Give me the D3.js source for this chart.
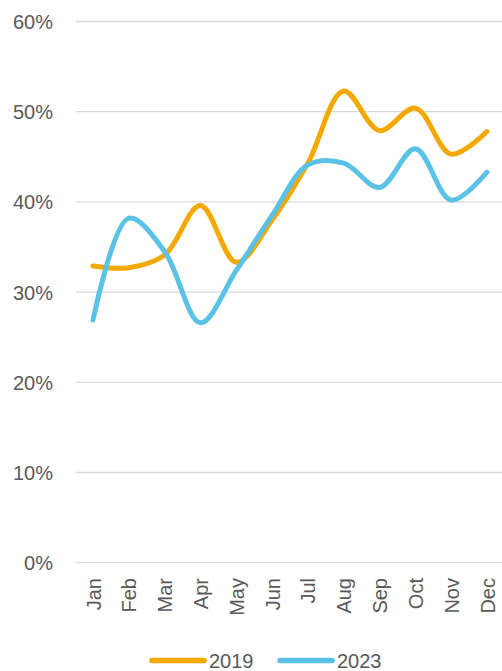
<!DOCTYPE html>
<html><head><meta charset="utf-8">
<script src="https://cdn.jsdelivr.net/npm/d3@7"></script>
<style>body{margin:0;background:#fff}svg{display:block}text{font-family:"Liberation Sans",Arial,sans-serif;fill:#595959}</style>
</head><body>
<script>
const months = ["Jan","Feb","Mar","Apr","May","Jun","Jul","Aug","Sep","Oct","Nov","Dec"];
const s2019 = [0.329,0.327,0.341,0.396,0.333,0.380,0.443,0.523,0.479,0.504,0.453,0.478];
const s2023 = [0.269,0.382,0.345,0.266,0.324,0.385,0.441,0.443,0.416,0.459,0.402,0.433];
const yTicks = [0,0.1,0.2,0.3,0.4,0.5,0.6];
const seriesNames = ["2019","2023"];
const colors = ["#F5A800","#5BC2E7"];

const W=502,H=671;
const svg=d3.select("body").append("svg").attr("width",W).attr("height",H);
const x=d3.scalePoint().domain(months).range([93,487]);
const y=d3.scaleLinear().domain([0,0.6]).range([562.7,21.5]);

const grid=svg.append("g");
grid.selectAll("line").data(yTicks).join("line")
  .attr("x1",76).attr("x2",502).attr("y1",d=>y(d)).attr("y2",d=>y(d))
  .attr("stroke","#D9D9D9").attr("stroke-width",1.3);

const yAxis=svg.append("g").attr("transform","translate(53,0)")
  .call(d3.axisLeft(y).tickValues(yTicks).tickFormat(d3.format(".0%")).tickSize(0).tickPadding(0));
yAxis.select(".domain").remove();
yAxis.selectAll("text").style("font-size","20px").attr("fill","#595959").attr("dy","0.35em")
  .style("font-family","'Liberation Sans',Arial,sans-serif");

const xAxis=svg.append("g").attr("transform","translate(0,578)")
  .call(d3.axisBottom(x).tickSize(0).tickPadding(0));
xAxis.select(".domain").remove();
xAxis.selectAll("text").style("font-size","20px").attr("fill","#595959")
  .style("font-family","'Liberation Sans',Arial,sans-serif")
  .attr("transform","rotate(-90)").attr("text-anchor","end").attr("x",0).attr("y",0).attr("dy","0.35em");

const line=d3.line().x((d,i)=>x(months[i])).y(d=>y(d)).curve(d3.curveCatmullRom.alpha(0.5));
[s2019,s2023].forEach((s,k)=>{
  svg.append("path").datum(s).attr("d",line).attr("fill","none")
    .attr("stroke",colors[k]).attr("stroke-width",5).attr("stroke-linecap","round").attr("stroke-linejoin","round");
});

const legX=[152,280];
seriesNames.forEach((n,k)=>{
  const g=svg.append("g");
  g.append("line").attr("x1",legX[k]).attr("x2",legX[k]+52).attr("y1",660.5).attr("y2",660.5)
    .attr("stroke",colors[k]).attr("stroke-width",5.5).attr("stroke-linecap","round");
  g.append("text").attr("x",legX[k]+57).attr("y",668).style("font-size","20px").text(n);
});
</script>
</body></html>
